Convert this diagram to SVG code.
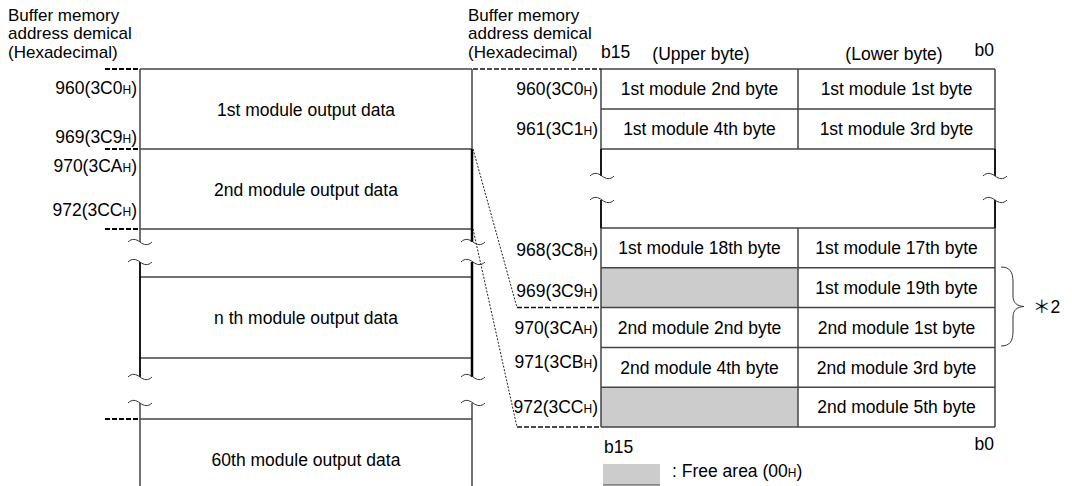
<svg xmlns="http://www.w3.org/2000/svg" width="1072" height="486" viewBox="0 0 1072 486">
<defs>
<style>
text{font-family:"Liberation Sans",Arial,sans-serif;font-size:17.5px;fill:#000}
.hd{font-size:17px}
.s{font-size:12px}
.e{text-anchor:end}
.m{text-anchor:middle}
.ln{stroke:#444;stroke-width:1.5;fill:none}
.bk{stroke:#000;stroke-width:1.8;fill:none}
.bk2{stroke:#000;stroke-width:2.5;fill:none}
.dl{stroke:#000;stroke-width:2;stroke-dasharray:5 2;fill:none}
.dl2{stroke:#111;stroke-width:1.5;stroke-dasharray:5 2;fill:none}
.dt{stroke:#222;stroke-width:1;stroke-dasharray:2 1.5;fill:none}
.free{fill:#cccccc}
</style>
<path id="wave" d="M-12,0 C-8,-4 -4,-3 0,0 C4,3 8,4 12,0" fill="none" stroke="#333" stroke-width="1"/>
</defs>
<rect width="1072" height="486" fill="#fff"/>

<g id="left-header">
<text class="hd" x="8" y="20.5">Buffer memory</text>
<text class="hd" x="8" y="39">address demical</text>
<text class="hd" x="8" y="57.5">(Hexadecimal)</text>
</g>

<g id="left-frame">
<path class="ln" d="M140,69H472 M140,149H472 M140,229H472 M140,277H472 M140,358H472 M140,419H472"/>
<path class="ln" d="M140,69V242 M472,69V149 M140,403V486 M472,403V486"/>
<path class="bk" d="M140,262V377"/>
<path class="bk2" d="M472,149V242 M472,262V377"/>
<use href="#wave" x="140" y="242"/>
<use href="#wave" x="140" y="262"/>
<use href="#wave" x="473" y="242"/>
<use href="#wave" x="473" y="262"/>
<use href="#wave" x="140" y="377"/>
<use href="#wave" x="140" y="403"/>
<use href="#wave" x="473" y="377"/>
<use href="#wave" x="473" y="403"/>
</g>

<g id="mod1">
<text class="e" x="137" y="94">960(3C0<tspan class="s">H</tspan>)</text>
<text class="e" x="137" y="142.5">969(3C9<tspan class="s">H</tspan>)</text>
<text class="m" x="306" y="116">1st module output data</text>
</g>
<g id="mod2">
<text class="e" x="137" y="172">970(3CA<tspan class="s">H</tspan>)</text>
<text class="e" x="137" y="216">972(3CC<tspan class="s">H</tspan>)</text>
<text class="m" x="306" y="195.5">2nd module output data</text>
</g>
<g id="modn">
<text class="m" x="306" y="324">n th module output data</text>
</g>
<g id="mod60">
<text class="m" x="306" y="466">60th module output data</text>
</g>

<g id="right-header">
<text class="hd" x="468" y="20.5">Buffer memory</text>
<text class="hd" x="468" y="39">address demical</text>
<text class="hd" x="468" y="57.5">(Hexadecimal)</text>
<text x="601" y="58">b15</text>
<text class="m" x="701" y="60">(Upper byte)</text>
<text class="m" x="894" y="60">(Lower byte)</text>
<text class="e" x="994" y="55.5">b0</text>
</g>

<g id="table">
<rect class="free" x="601" y="267.8" width="197" height="39.8"/>
<rect class="free" x="601" y="387.2" width="197" height="39.8"/>
<path class="ln" d="M601,69H995 M601,109H995 M601,149H995 M601,228H995 M601,267.8H995 M601,307.6H995 M601,347.4H995 M601,387.2H995 M601,427H995"/>
<path class="ln" d="M798,69V149 M798,228V427 M601,69V149 M995,69V149 M601,228V427 M995,228V427"/>
<path class="bk" d="M601,149V176 M601,200V228 M995,149V176 M995,200V228"/>
<use href="#wave" x="602" y="176"/>
<use href="#wave" x="602" y="200"/>
<use href="#wave" x="995" y="176"/>
<use href="#wave" x="995" y="200"/>
</g>

<g id="row960">
<text class="e" x="598" y="95">960(3C0<tspan class="s">H</tspan>)</text>
<text class="m" x="699.5" y="95">1st module 2nd byte</text>
<text class="m" x="896.5" y="95">1st module 1st byte</text>
</g>
<g id="row961">
<text class="e" x="598" y="135">961(3C1<tspan class="s">H</tspan>)</text>
<text class="m" x="699.5" y="135">1st module 4th byte</text>
<text class="m" x="896.5" y="135">1st module 3rd byte</text>
</g>
<g id="row968">
<text class="e" x="598" y="256">968(3C8<tspan class="s">H</tspan>)</text>
<text class="m" x="699.5" y="254">1st module 18th byte</text>
<text class="m" x="896.5" y="254">1st module 17th byte</text>
</g>
<g id="row969">
<text class="e" x="598" y="296.5">969(3C9<tspan class="s">H</tspan>)</text>
<text class="m" x="896.5" y="294">1st module 19th byte</text>
</g>
<g id="row970">
<text class="e" x="598" y="334">970(3CA<tspan class="s">H</tspan>)</text>
<text class="m" x="699.5" y="334">2nd module 2nd byte</text>
<text class="m" x="896.5" y="334">2nd module 1st byte</text>
</g>
<g id="row971">
<text class="e" x="598" y="368">971(3CB<tspan class="s">H</tspan>)</text>
<text class="m" x="699.5" y="374">2nd module 4th byte</text>
<text class="m" x="896.5" y="374">2nd module 3rd byte</text>
</g>
<g id="row972">
<text class="e" x="598" y="413">972(3CC<tspan class="s">H</tspan>)</text>
<text class="m" x="896.5" y="413">2nd module 5th byte</text>
</g>

<g id="connectors">
<path class="dl" d="M105,69H140 M105,149H140 M105,229H140 M105,419H140"/>
<path class="dl2" d="M473,69H601 M517,307.6H601 M517,427H601"/>
<path class="dt" d="M473,149L517,307.6 M473,229L517,427"/>
</g>

<g id="note">
<path d="M1001,267 C1010,267 1013,272 1013,282 L1013,296 C1013,303 1017,306 1024,306.5 C1017,307 1013,310 1013,317 L1013,331 C1013,341 1010,346 1001,346" fill="none" stroke="#333" stroke-width="1"/>
<text x="1033" y="313" style="font-family:'Liberation Sans','Noto Sans CJK JP',sans-serif">＊2</text>
</g>

<g id="footer">
<text x="604" y="453">b15</text>
<text class="e" x="994" y="450">b0</text>
<rect class="free" x="603" y="464" width="57" height="21"/>
<path d="M603,485H660" stroke="#444" stroke-width="1"/>
<text x="672" y="477">: Free area (00<tspan class="s">H</tspan>)</text>
</g>
</svg>
